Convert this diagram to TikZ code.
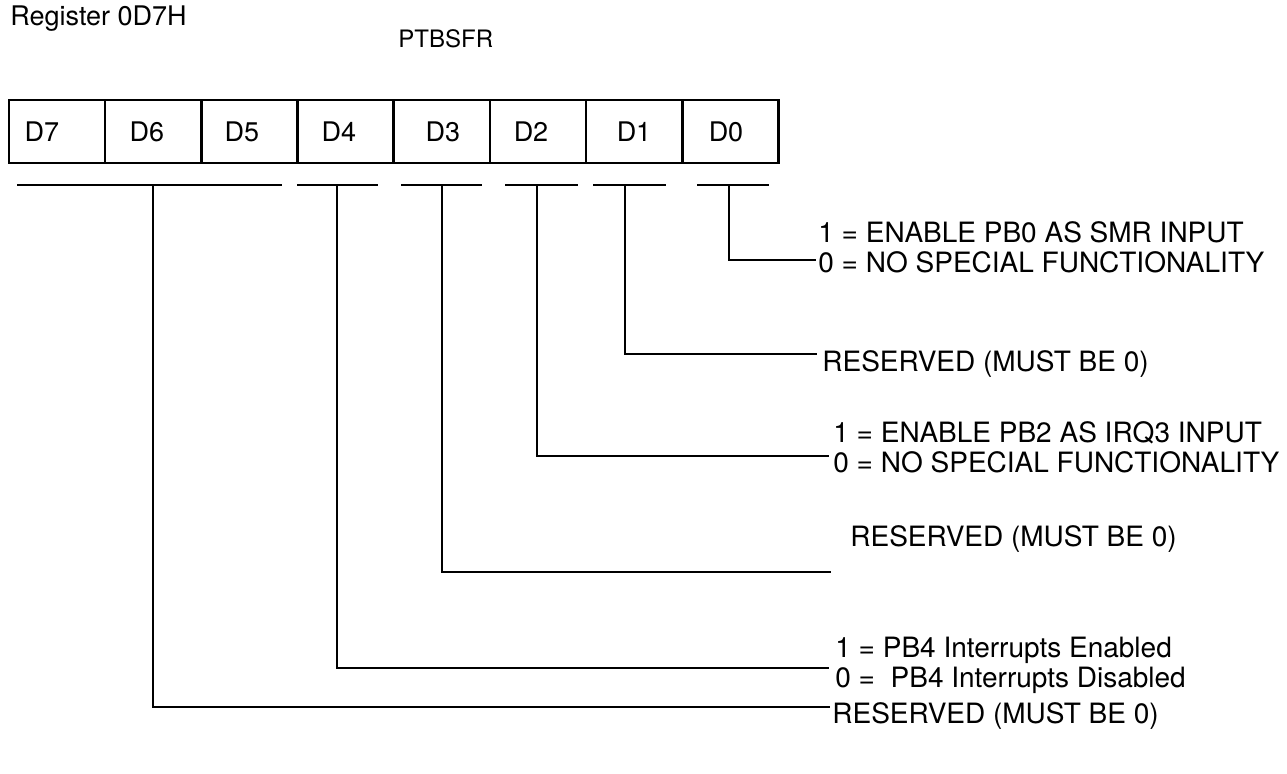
\documentclass[tikz,border=0pt]{standalone}
\usepackage{fontspec}
\setmainfont{TeX Gyre Heros}
\usetikzlibrary{positioning}
\newcommand{\champ}[4]{\draw[epais] (#1,185) -- (#2,185);
	\coordinate (#4) at (#3,185)}
\newcommand{\relie}[2]{\draw[epais] (#1) |- (#2)}
\tikzset{
	epais/.style={line width=1.2pt},
	bit/.style={draw,epais,minimum width=48pt,minimum height=31.5pt,inner sep=0pt},
	note/.style={anchor=west,align=left,inner sep=0pt,font=\fontsize{14}{15}\selectfont}
}

\begin{document}
\begin{tikzpicture}[x=0.5pt,y=-0.5pt]
	\useasboundingbox (0,0) rectangle (1287,773);
%Titles
	\node[anchor=west,inner sep=0pt,font=\fontsize{13.5}{15}\selectfont] (reg) at (10,19) {Register 0D7H};
	\node[anchor=west,inner sep=0pt,font=\fontsize{12}{14}\selectfont] (nom) at (398,39) {PTBSFR};
%The register
	\foreach \n [count=\i from 0] in {7,...,0}
		\node[bit] (c\n) at (57+96.2*\i,131.5) {};
	\foreach \n/\x in {7/42,6/147,5/242,4/339,3/443,2/531,1/634,0/726}
		\node[font=\fontsize{13.5}{15}\selectfont] (d\n) at (\x,131.5) {D\n};
%Fields
	\champ{17}{282}{153}{b6};
	\champ{297}{378}{337}{b4};
	\champ{401}{482}{442}{b3};
	\champ{505}{578}{537}{b2};
	\champ{593}{666}{625}{b1};
	\champ{697}{769}{729}{b0};
%Ends of the lines
	\coordinate (e0) at (816,260);
	\coordinate (e1) at (817,354);
	\coordinate (e2) at (829,456);
	\coordinate (e3) at (831,572);
	\coordinate (e4) at (829,668);
	\coordinate (e6) at (830,707);
%Texts
	\node[note] (t0) at (818,247) {1 = ENABLE PB0 AS SMR INPUT\\0 = NO SPECIAL FUNCTIONALITY};
	\node[note] (t1) at (822,364) {RESERVED (MUST BE 0)};
	\node[note] (t2) at (833,447) {1 = ENABLE PB2 AS IRQ3 INPUT\\0 = NO SPECIAL FUNCTIONALITY};
	\node[note] (t3) at (850,539) {RESERVED (MUST BE 0)};
	\node[note] (t4) at (835,665) {1 = PB4 Interrupts Enabled\\0 = \ PB4 Interrupts Disabled};
	\node[note] (t6) at (832,716) {RESERVED (MUST BE 0)};
%Links
	\relie{b0}{e0};
	\relie{b1}{e1};
	\relie{b2}{e2};
	\relie{b3}{e3};
	\relie{b4}{e4};
	\relie{b6}{e6};
\end{tikzpicture}
\end{document}
